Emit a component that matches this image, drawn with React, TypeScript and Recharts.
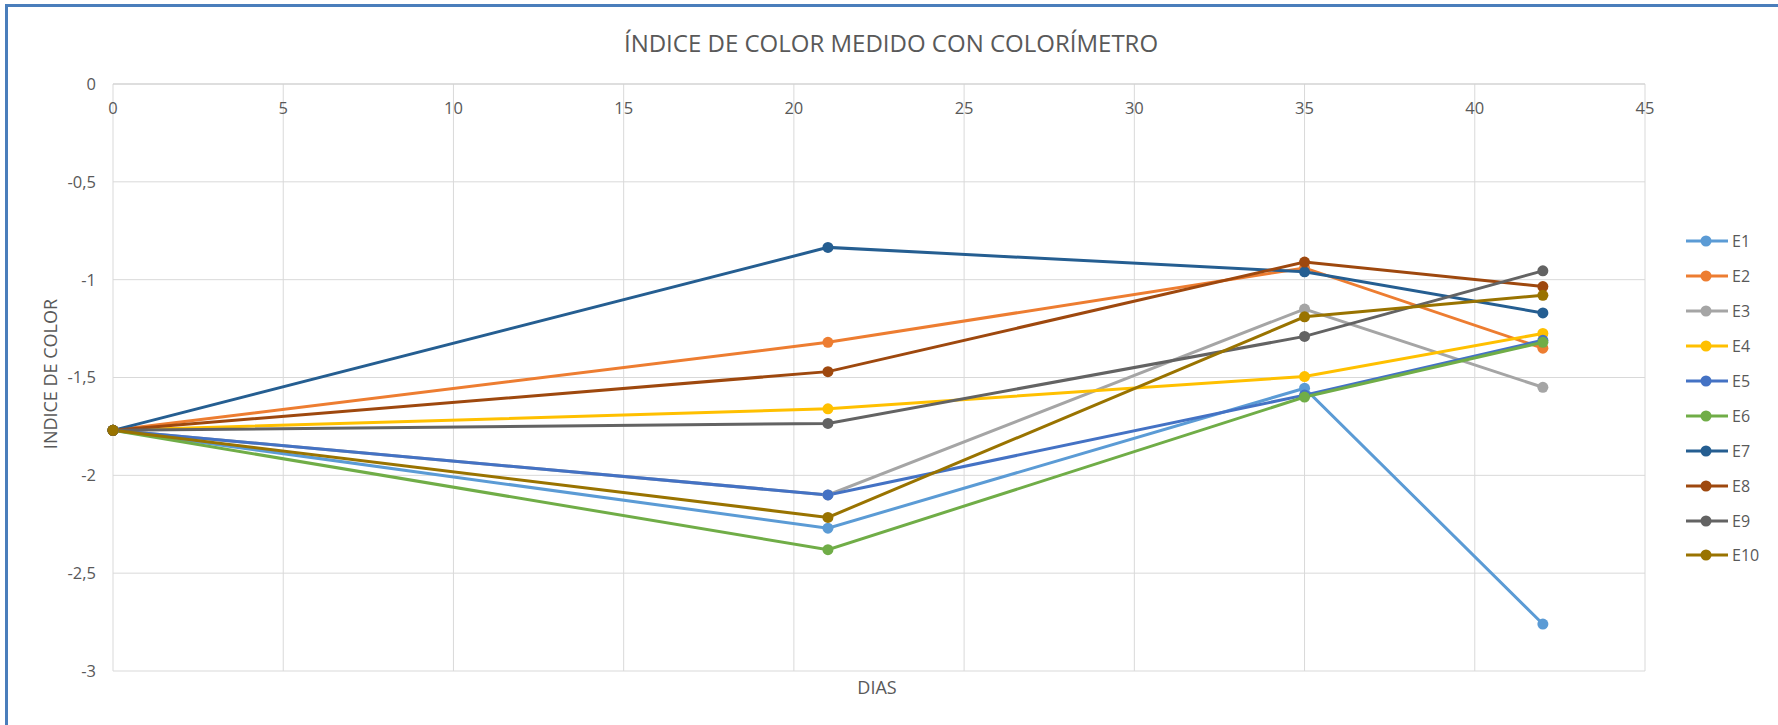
import { LineChart, Line, XAxis, YAxis, CartesianGrid } from "recharts";

const days = [0, 21, 35, 42];
const seriesNames = ["E1", "E2", "E3", "E4", "E5", "E6", "E7", "E8", "E9", "E10"];
const seriesColors = [
  "#5B9BD5",
  "#ED7D31",
  "#A5A5A5",
  "#FFC000",
  "#4472C4",
  "#70AD47",
  "#255E91",
  "#9E480E",
  "#636363",
  "#997300",
];

const e1 = [-1.77, -2.27, -1.555, -2.76];
const e2 = [-1.77, -1.32, -0.94, -1.35];
const e3 = [-1.77, -2.1, -1.15, -1.55];
const e4 = [-1.77, -1.66, -1.495, -1.275];
const e5 = [-1.77, -2.1, -1.59, -1.31];
const e6 = [-1.77, -2.38, -1.6, -1.32];
const e7 = [-1.77, -0.835, -0.96, -1.17];
const e8 = [-1.77, -1.47, -0.91, -1.035];
const e9 = [-1.77, -1.735, -1.29, -0.955];
const e10 = [-1.77, -2.215, -1.19, -1.08];
const seriesValues = [e1, e2, e3, e4, e5, e6, e7, e8, e9, e10];

const xTicks = [0, 5, 10, 15, 20, 25, 30, 35, 40, 45];
const yTicks = [0, -0.5, -1, -1.5, -2, -2.5, -3];

const data = days.map((d, i) => {
  const row: Record<string, number> = { dia: d };
  seriesNames.forEach((name, s) => {
    row[name] = seriesValues[s][i];
  });
  return row;
});

const FONT = "'Open Sans', sans-serif";
const TEXT = "#595959";

// x labels sit under the axis line at the top (axis crosses at 0)
function TopTick(props: any) {
  const { x, y, payload } = props;
  return (
    <text x={x} y={y + 30} textAnchor="middle" fill={TEXT} fontSize={16.5} fontFamily={FONT}>
      {payload.value}
    </text>
  );
}

function Legend() {
  return (
    <div style={{ position: "absolute", left: 1686, top: 224 }}>
      {seriesNames.map((name, i) => (
        <div key={name} style={{ display: "flex", alignItems: "center", height: 34.9 }}>
          <svg width={42} height={14}>
            <line x1={0} y1={7} x2={42} y2={7} stroke={seriesColors[i]} strokeWidth={3} />
            <circle cx={20} cy={7} r={5.5} fill={seriesColors[i]} />
          </svg>
          <span style={{ marginLeft: 4, fontFamily: FONT, fontSize: 16, color: TEXT }}>{name}</span>
        </div>
      ))}
    </div>
  );
}

export default function App() {
  return (
    <div style={{ position: "absolute", left: 0, top: 0, width: 1778, height: 725, background: "#fff" }}>
      <div
        style={{
          position: "absolute",
          left: 5,
          top: 4,
          width: 1770,
          height: 718,
          borderTop: "3px solid #4A7EBB",
          borderLeft: "3px solid #4A7EBB",
          borderRight: "1px solid #d9d9d9",
          borderBottom: "1px solid #d9d9d9",
        }}
      />
      <div
        style={{
          position: "absolute",
          left: 113,
          width: 1556,
          top: 26,
          textAlign: "center",
          fontFamily: FONT,
          fontSize: 24,
          color: TEXT,
        }}
      >
        ÍNDICE DE COLOR MEDIDO CON COLORÍMETRO
      </div>
      <div
        style={{
          position: "absolute",
          left: 50,
          top: 374,
          transform: "translate(-50%, -50%) rotate(-90deg)",
          whiteSpace: "nowrap",
          fontFamily: FONT,
          fontSize: 18,
          color: TEXT,
        }}
      >
        INDICE DE COLOR
      </div>
      <div
        style={{
          position: "absolute",
          left: 877,
          top: 687,
          transform: "translate(-50%, -50%)",
          fontFamily: FONT,
          fontSize: 18,
          color: TEXT,
        }}
      >
        DIAS
      </div>
      <div style={{ position: "absolute", left: 0, top: 0 }}>
        <LineChart width={1778} height={725} data={data} margin={{ top: 54, right: 133, bottom: 54, left: 0 }}>
          <CartesianGrid stroke="#d9d9d9" strokeWidth={1} />
          <XAxis
            dataKey="dia"
            type="number"
            orientation="top"
            domain={[0, 45]}
            ticks={xTicks}
            height={30}
            tickSize={0}
            tickMargin={0}
            tickLine={false}
            axisLine={{ stroke: "#d0d0d0" }}
            tick={<TopTick />}
          />
          <YAxis
            type="number"
            domain={[-3, 0]}
            ticks={yTicks}
            width={113}
            tickSize={0}
            tickMargin={17}
            tickLine={false}
            axisLine={false}
            tick={{ fill: TEXT, fontSize: 16.5, fontFamily: FONT }}
            tickFormatter={(v: number) => String(v).replace(".", ",")}
          />
          {seriesNames.map((name, i) => (
            <Line
              key={name}
              dataKey={name}
              stroke={seriesColors[i]}
              strokeWidth={3}
              dot={{ r: 5.5, fill: seriesColors[i], stroke: seriesColors[i], strokeWidth: 0 }}
              activeDot={false}
              isAnimationActive={false}
            />
          ))}
        </LineChart>
      </div>
      <Legend />
    </div>
  );
}
